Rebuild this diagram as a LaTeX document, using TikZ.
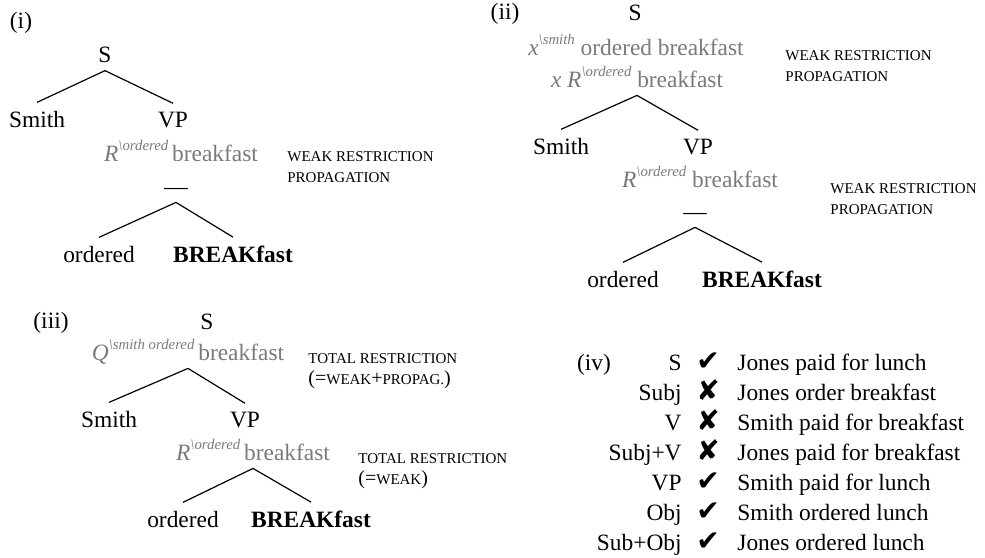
\documentclass[tikz,border=0pt]{standalone}
\usepackage{fontspec}
\setmainfont{Liberation Serif}
\newfontfamily\symfont{DejaVu Sans}
\usepackage{xcolor}
\usepackage{tikz}
\usetikzlibrary{positioning}

\definecolor{annotgray}{gray}{0.48}
\newcommand{\rsup}[1]{\raisebox{0.45em}{\fontsize{7.4pt}{8pt}\selectfont\itshape\textbackslash #1}}
\newcommand{\bigpart}[1]{{\fontsize{10pt}{10.5pt}\selectfont #1}}
\newcommand{\ok}{\char"2714}
\newcommand{\no}{\char"2718}

\begin{document}
\begin{tikzpicture}[
        x=0.5pt, y=-0.5pt,
        every node/.style={font=\fontsize{11.7pt}{14pt}\selectfont},
        word/.style={anchor=base, inner xsep=1pt, inner ysep=4pt},
        annot/.style={word, text=annotgray, text depth=0pt},
        note/.style={anchor=north west, inner sep=0pt, align=left, font=\fontsize{7.5pt}{10.5pt}\selectfont},
        branch/.style={line width=0.6pt, draw=black},
        rowlbl/.style={anchor=base east, inner sep=0pt},
        verdict/.style={anchor=base, inner sep=0pt, font=\symfont\fontsize{14pt}{16pt}\selectfont},
        sentence/.style={anchor=base west, inner sep=0pt}
    ]
    \useasboundingbox (0,0) rectangle (985,557);

    % Tree (i)
    \node (lbl1) [word] at (21,28) {(i)};
    \node (s1) [word] at (105,62) {S};
    \node (smith1) [word] at (37,127) {Smith};
    \node (vp1) [word] at (173,127) {VP};
    \node (ann1) [annot] at (181,161) {\textit{R}\rsup{ordered}\,breakfast};
    \node (weak1) [note] at (287,151) {WEAK RESTRICTION\\PROPAGATION};
    \node (gap1) [word] at (176,194) {—};
    \node (ord1) [word] at (99,262) {ordered};
    \node (brk1) [word] at (233,262) {\textbf{BREAKfast}};

    \draw [branch] (s1.south) -- (smith1.north);
    \draw [branch] (s1.south) -- (vp1.north);
    \draw [branch] (gap1.south) -- (ord1.north);
    \draw [branch] (gap1.south) -- (brk1.north);

    % Tree (ii)
    \node (lbl2) [word] at (505,19) {(ii)};
    \node (s2) [word] at (635,20) {S};
    \node (top2) [annot] at (636,55) {\textit{x}\rsup{smith} ordered breakfast};
    \node (ann2) [annot] at (637,87) {\textit{x R}\rsup{ordered} breakfast};
    \node (weak2) [note] at (785,50) {WEAK RESTRICTION\\PROPAGATION};
    \node (smith2) [word] at (561,154) {Smith};
    \node (vp2) [word] at (698,154) {VP};
    \node (ann2b) [annot] at (700,187) {\textit{R}\rsup{ordered} breakfast};
    \node (weak2b) [note] at (830,183) {WEAK RESTRICTION\\PROPAGATION};
    \node (gap2) [word] at (695,219) {—};
    \node (ord2) [word] at (623,287) {ordered};
    \node (brk2) [word] at (762,287) {\textbf{BREAKfast}};

    \draw [branch] (ann2.south) -- (smith2.north);
    \draw [branch] (ann2.south) -- (vp2.north);
    \draw [branch] (gap2.south) -- (ord2.north);
    \draw [branch] (gap2.south) -- (brk2.north);

    % Tree (iii)
    \node (lbl3) [word] at (51,328) {(iii)};
    \node (s3) [word] at (207,329) {S};
    \node (top3) [annot] at (188,360) {\textit{Q}\rsup{smith ordered}\,breakfast};
    \node (total3) [note] at (308,353) {TOTAL RESTRICTION\\\bigpart{(=}WEAK\bigpart{+}PROPAG.\bigpart{)}};
    \node (smith3) [word] at (109,427) {Smith};
    \node (vp3) [word] at (245,427) {VP};
    \node (ann3) [annot] at (253,460) {\textit{R}\rsup{ordered}\,breakfast};
    \node (total3b) [note] at (358,453) {TOTAL RESTRICTION\\\bigpart{(=}WEAK\bigpart{)}};
    \node (ord3) [word] at (183,527) {ordered};
    \node (brk3) [word] at (311,527) {\textbf{BREAKfast}};

    \draw [branch] (top3.south) -- (smith3.north);
    \draw [branch] (top3.south) -- (vp3.north);
    \draw [branch] (ann3.south) -- (ord3.north);
    \draw [branch] (ann3.south) -- (brk3.north);

    % Table (iv)
    \node (lbl4) [word] at (594,370) {(iv)};
    \node (lab1) [rowlbl] at (682,370) {S};
    \node (mk1) [verdict] at (708,370) {\ok};
    \node (sen1) [sentence] at (737,370) {Jones paid for lunch};
    \node (lab2) [rowlbl] at (682,400) {Subj};
    \node (mk2) [verdict] at (708,400) {\no};
    \node (sen2) [sentence] at (737,400) {Jones order breakfast};
    \node (lab3) [rowlbl] at (682,430) {V};
    \node (mk3) [verdict] at (708,430) {\no};
    \node (sen3) [sentence] at (737,430) {Smith paid for breakfast};
    \node (lab4) [rowlbl] at (682,460) {Subj+V};
    \node (mk4) [verdict] at (708,460) {\no};
    \node (sen4) [sentence] at (737,460) {Jones paid for breakfast};
    \node (lab5) [rowlbl] at (682,490) {VP};
    \node (mk5) [verdict] at (708,490) {\ok};
    \node (sen5) [sentence] at (737,490) {Smith paid for lunch};
    \node (lab6) [rowlbl] at (682,520) {Obj};
    \node (mk6) [verdict] at (708,520) {\ok};
    \node (sen6) [sentence] at (737,520) {Smith ordered lunch};
    \node (lab7) [rowlbl] at (682,550) {Sub+Obj};
    \node (mk7) [verdict] at (708,550) {\ok};
    \node (sen7) [sentence] at (737,550) {Jones ordered lunch};

\end{tikzpicture}
\end{document}
